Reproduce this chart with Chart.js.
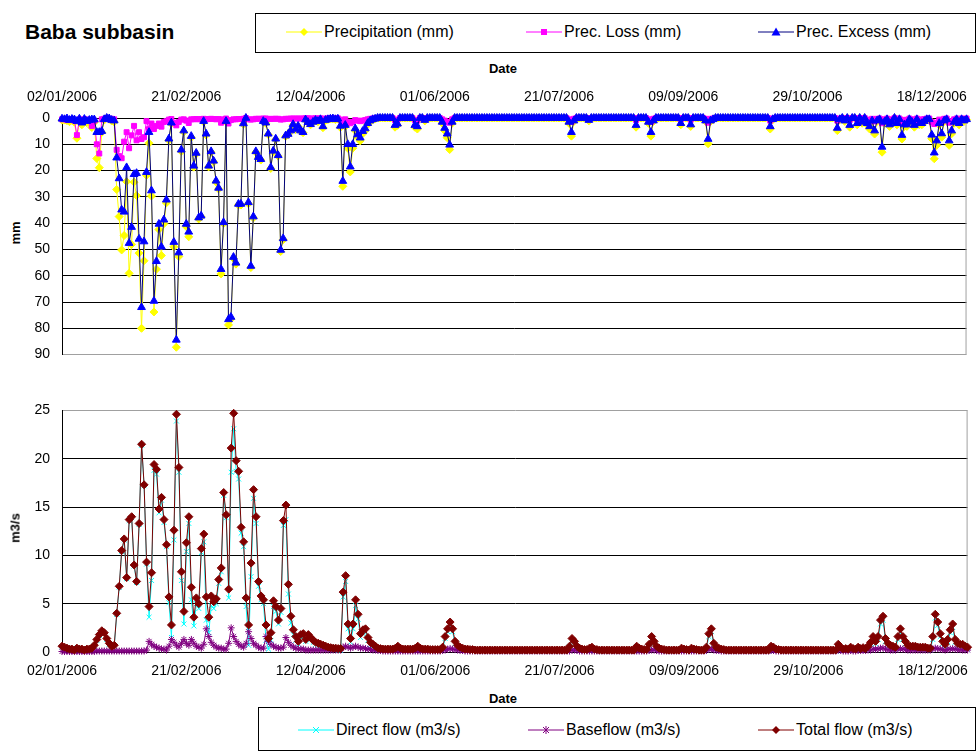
<!DOCTYPE html>
<html>
<head>
<meta charset="utf-8">
<script src="https://cdn.jsdelivr.net/npm/chart.js@4.4.1/dist/chart.umd.min.js"></script>
<style>
  html, body { margin: 0; padding: 0; background: #fff; }
  body { width: 979px; height: 755px; position: relative; overflow: hidden; font-family: 'Liberation Sans', Arial, sans-serif; color: #000; }
  canvas { position: absolute; left: 0; }
  .texto { position: absolute; white-space: nowrap; transform: translate(-50%, -50%); }
  .negrita { font-weight: bold; font-size: 13px; }
  .vertical { transform: translate(-50%, -50%) rotate(-90deg); }
  .caja-leyenda { position: absolute; border: 1px solid #000; background: #fff; box-sizing: border-box; }
  .item { position: absolute; display: flex; align-items: center; font-size: 16px; height: 20px; }
  .item svg { margin-right: 2px; }
</style>
</head>
<body>

<div class="texto" style="left:25px; top:32px; transform:translate(0,-50%); font-size:21px; font-weight:bold;">Baba subbasin</div>
<div class="caja-leyenda" id="leyendaArriba" style="left:255px; top:13px; width:721px; height:40px;"></div>
<div class="texto negrita" style="left:503px; top:68px;">Date</div>
<div class="texto negrita vertical" style="left:15px; top:233px;">mm</div>
<canvas id="graficaPrec" width="979" height="320" style="top:55px;"></canvas>

<canvas id="graficaCaudal" width="979" height="300" style="top:390px;"></canvas>
<div class="texto negrita vertical" style="left:15px; top:528px;">m3/s</div>
<div class="texto negrita" style="left:503px; top:698px;">Date</div>
<div class="caja-leyenda" id="leyendaAbajo" style="left:258px; top:707px; width:718px; height:44px;"></div>

<script>
// Datos diarios desde 02/01/2006 (un valor por día, 365 días)
const precipitacion = [
  0.8,0.8,1.0,1.4,0.9,1.6,7.7,0.8,2.6,0.9,1.8,1.6,3.6,1.6,15.4,18.9,5.5,0.8,0,0.5,
  1.1,1.5,27.2,37.5,50.2,44.7,24.2,59.1,48.1,24.4,29.5,51.4,80,54.3,21.8,9.6,29.7,73.8,57.5,42.4,
  52.3,40.2,32.3,8.5,2.2,49,87.2,52.7,12.7,5.3,41.3,45.2,7.4,18.7,13.7,38.4,37.6,1.5,6.5,18.6,
  13,16.7,24.4,27,59.3,40.2,1.4,78.7,76.5,53.4,55.6,33.1,33.1,2.4,0,32.6,56.9,38,13,15.2,
  16,1.4,2,6.3,19.2,12.8,8.2,14.5,50.8,46.3,7,6.4,5,2.6,4.4,3.2,5,5.6,0.7,1.7,
  2.6,1.7,0.9,1.4,0.6,3.7,1,0.6,0.4,0.3,0.6,0.4,3.6,26,3.2,11.5,20.5,11.5,4.8,7.3,
  8.7,6,4.8,2.5,1.3,0.7,0.4,0,0,0,0,0,0,0,3.5,2.8,0,0,0,0,
  0,0,3.5,4.2,0,0,1.1,0,0,0,0,0,0,2,4.8,7.5,12,2,0,0,
  0,0,0,0,0,0,0,0,0,0,0,0,0,0,0,0,0,0,0,0,
  0,0,0,0,0,0,0,0,0,0,0,0,0,0,0,0,0,0,0,0,
  0,0,0,0,2,6.9,1.3,0,0,0,0,0,1.1,0,0,0,0,0,0,0,
  0,0,0,0,0,0,0,0,0,0,0,3.5,0,0,0,0,2,6.9,1.3,0,
  0,0,0,0,0,0,0,0,0,2.6,0,0,0,3.2,0,0,0,0,0,1.3,
  9.8,1.3,0.7,0,0,0,0,0,0,0,0,0,0,0,0,0,0,0,0,0,
  0,0,0,0,0,4.2,0.7,0,0,0,0,0,0,0,0,0,0,0,0,0,
  0,0,0,0,0,0,0,0,0,0,0,0,4.8,0.7,0,1.3,0,3.5,0,0,
  2.6,0,2,0,2.6,4.2,1.3,6.1,1.3,0.7,13,2,0.7,3.2,2,0,2.6,0.7,8,3.2,
  3.2,0.7,2,3.5,0.7,2.6,2.6,1.6,0.7,0.7,7.9,15.5,10.4,2.6,7.3,1.3,0.7,10.4,6,2,
  0.7,2.6,0.7,1.3,0.7
];

const perdidaPrec = [
  0.5,0.3,0.8,0.6,0.5,1,6.5,0.5,0.8,0.5,0.6,0.8,3,1,10,13.5,0.5,0.3,0,0.3,
  0.3,0.5,12.1,14.5,15.3,9,5.4,11.5,6.6,3,8.5,5.4,8,7.3,1.2,4.2,2.1,4.2,3,2.1,
  3.3,1.5,1.2,0.6,0.4,1.8,2.8,1.5,0.6,0.5,1,1.9,0.5,0.5,0.4,0.5,0.4,0.3,0.5,0.4,
  0.3,0.4,0.5,0.4,1.8,0.5,0.2,2.1,0.8,0.5,0.5,0.4,0.4,0.3,0,0.5,0.6,0.5,0.3,0.3,
  0.3,0.2,0.2,0.3,0.4,0.3,0.3,0.3,0.6,0.5,0.3,0.3,0.2,0.2,0.2,0.2,0.2,0.2,0.1,0.1,
  0.2,0.2,0.1,0.2,0.1,0.5,0.2,0.1,0.1,0.1,0.1,0.1,0.6,2,0.5,1.5,2,1.5,0.8,1,
  1.2,1,0.8,0.5,0.3,0.2,0.1,0,0,0,0,0,0,0,0.8,0.6,0,0,0,0,
  0,0,0.8,1,0,0,0.3,0,0,0,0,0,0,0.5,1,1.5,1.8,0.5,0,0,
  0,0,0,0,0,0,0,0,0,0,0,0,0,0,0,0,0,0,0,0,
  0,0,0,0,0,0,0,0,0,0,0,0,0,0,0,0,0,0,0,0,
  0,0,0,0,0.5,1.5,0.3,0,0,0,0,0,0.3,0,0,0,0,0,0,0,
  0,0,0,0,0,0,0,0,0,0,0,0.8,0,0,0,0,0.5,1.5,0.3,0,
  0,0,0,0,0,0,0,0,0,0.6,0,0,0,0.7,0,0,0,0,0,0.3,
  1.8,0.3,0.2,0,0,0,0,0,0,0,0,0,0,0,0,0,0,0,0,0,
  0,0,0,0,0,1,0.2,0,0,0,0,0,0,0,0,0,0,0,0,0,
  0,0,0,0,0,0,0,0,0,0,0,0,1,0.2,0,0.3,0,0.8,0,0,
  0.6,0,0.5,0,0.6,1,0.3,1.3,0.3,0.2,2,0.5,0.2,0.7,0.5,0,0.6,0.2,1.5,0.7,
  0.7,0.2,0.5,0.8,0.2,0.6,0.6,0.4,0.2,0.2,1.5,2.3,1.8,0.6,1.4,0.3,0.2,1.8,1.2,0.5,
  0.2,0.6,0.2,0.3,0.2
];

const excesoPrec = [
  0.3,0.5,0.2,0.8,0.4,0.6,1.2,0.3,1.8,0.4,1.2,0.8,0.6,0.6,5.4,5.4,5.0,0.5,0,0.2,
  0.8,1.0,15.1,23,34.9,35.7,18.8,47.6,41.5,21.4,21,46,72,47,20.6,5.4,27.6,69.6,54.5,40.3,
  49,38.7,31.1,7.9,1.8,47.2,84.4,51.2,12.1,4.8,40.3,43.3,6.9,18.2,13.3,37.9,37.2,1.2,6,18.2,
  12.7,16.3,23.9,26.6,57.5,39.7,1.2,76.6,75.7,52.9,55.1,32.7,32.7,2.1,0,32.1,56.3,37.5,12.7,14.9,
  15.7,1.2,1.8,6,18.8,12.5,7.9,14.2,50.2,45.8,6.7,6.1,4.8,2.4,4.2,3,4.8,5.4,0.6,1.6,
  2.4,1.5,0.8,1.2,0.5,3.2,0.8,0.5,0.3,0.2,0.5,0.3,3,24,2.7,10,18.5,10,4,6.3,
  7.5,5,4,2,1,0.5,0.3,0,0,0,0,0,0,0,2.7,2.2,0,0,0,0,
  0,0,2.7,3.2,0,0,0.8,0,0,0,0,0,0,1.5,3.8,6,10.2,1.5,0,0,
  0,0,0,0,0,0,0,0,0,0,0,0,0,0,0,0,0,0,0,0,
  0,0,0,0,0,0,0,0,0,0,0,0,0,0,0,0,0,0,0,0,
  0,0,0,0,1.5,5.4,1,0,0,0,0,0,0.8,0,0,0,0,0,0,0,
  0,0,0,0,0,0,0,0,0,0,0,2.7,0,0,0,0,1.5,5.4,1,0,
  0,0,0,0,0,0,0,0,0,2,0,0,0,2.5,0,0,0,0,0,1,
  8,1,0.5,0,0,0,0,0,0,0,0,0,0,0,0,0,0,0,0,0,
  0,0,0,0,0,3.2,0.5,0,0,0,0,0,0,0,0,0,0,0,0,0,
  0,0,0,0,0,0,0,0,0,0,0,0,3.8,0.5,0,1,0,2.7,0,0,
  2,0,1.5,0,2,3.2,1,4.8,1,0.5,11,1.5,0.5,2.5,1.5,0,2,0.5,6.5,2.5,
  2.5,0.5,1.5,2.7,0.5,2,2,1.2,0.5,0.5,6.4,13.2,8.6,2,5.9,1,0.5,8.6,4.8,1.5,
  0.5,2,0.5,1,0.5
];

const caudalDirecto = [
  0.55,0.45,0.35,0.25,0.25,0.15,0.35,0.25,0.25,0.15,0.25,0.25,0.35,0.65,1.2,1.7,2.1,1.9,1.3,0.8,
  0.5,0.6,3.9,6.7,10.4,11.6,7.6,13.6,13.9,8.9,7.2,13.2,21.4,17.2,9.1,3.6,7.4,18.8,18.4,14.4,
  15.7,13.4,10.9,5.1,1.5,11.6,23.9,18.6,7.4,2.9,10.4,13.3,5.4,2.7,5.0,4.5,10.3,11.4,3.3,2.0,
  4.8,4.5,5.0,7.1,8.3,16.2,13.9,5.6,18.6,23.1,18.7,17.9,12.3,10.9,4.7,0.7,7.8,15.9,13.3,6.8,
  5.4,5.0,1.2,0.3,1.2,4.7,4.2,2.9,4.1,13.1,13.7,6.0,3.0,1.8,1.2,0.8,1.5,1.6,1.1,1.6,
  1.3,1.0,0.8,0.7,0.6,0.5,0.4,0.3,0.25,0.2,0.2,0.15,0.15,5.7,7.3,2.4,1.0,2.4,4.8,3.4,
  1.5,1.9,2.05,1.2,0.75,0.6,0.4,0.25,0.2,0.2,0.2,0.2,0.2,0.2,0.3,0.5,0.3,0.2,0.2,0.2,
  0.2,0.2,0.3,0.5,0.3,0.2,0.2,0.2,0.15,0.15,0.15,0.15,0.15,0.35,1.4,2.1,2.75,2.1,0.85,0.5,
  0.35,0.25,0.2,0.2,0.15,0.15,0.1,0.1,0.1,0.1,0.1,0.1,0.1,0.1,0.1,0.1,0.1,0.1,0.1,0.1,
  0.1,0.1,0.1,0.1,0.1,0.1,0.1,0.1,0.1,0.1,0.1,0.1,0.1,0.1,0.1,0.1,0.1,0.1,0.1,0.1,
  0.1,0.1,0.1,0.1,0.5,1.2,0.9,0.45,0.3,0.2,0.15,0.15,0.3,0.4,0.2,0.15,0.1,0.1,0.1,0.1,
  0.1,0.1,0.1,0.1,0.1,0.1,0.1,0.1,0.1,0.1,0.1,0.5,0.3,0.2,0.15,0.15,0.65,1.4,0.9,0.45,
  0.3,0.2,0.15,0.1,0.1,0.1,0.1,0.1,0.1,0.3,0.2,0.15,0.1,0.3,0.2,0.15,0.1,0.1,0.1,0.35,
  1.6,2.1,0.7,0.35,0.25,0.2,0.15,0.1,0.1,0.1,0.1,0.1,0.1,0.1,0.1,0.1,0.1,0.1,0.1,0.1,
  0.1,0.1,0.1,0.1,0.1,0.45,0.35,0.2,0.15,0.1,0.1,0.1,0.1,0.1,0.1,0.1,0.1,0.1,0.1,0.1,
  0.1,0.1,0.1,0.1,0.1,0.1,0.1,0.1,0.1,0.1,0.1,0.1,0.6,0.35,0.2,0.25,0.2,0.35,0.25,0.2,
  0.35,0.2,0.3,0.2,0.4,0.8,1.3,0.85,1.3,2.9,3.3,1.1,0.65,0.5,0.4,0.3,1.3,2.05,1.3,0.85,
  0.5,0.4,0.4,0.4,0.3,0.3,0.3,0.3,0.2,0.2,1.3,3.5,2.75,1.6,0.85,0.6,1.05,2.0,2.55,1.0,
  0.65,0.55,0.6,0.4,0.3
];

const caudalBase = [
  0.05,0.05,0.05,0.05,0.05,0.05,0.05,0.05,0.05,0.05,0.05,0.05,0.05,0.05,0.1,0.1,0.1,0.1,0.1,0.1,
  0.1,0.1,0.1,0.1,0.1,0.1,0.1,0.1,0.1,0.1,0.1,0.1,0.1,0.1,0.2,1.1,0.8,0.6,0.5,0.4,
  0.3,0.3,0.2,0.6,1.3,1.0,0.7,0.5,0.9,1.3,0.9,0.7,1.3,0.9,0.6,0.5,0.4,0.8,2.4,1.6,
  1.0,0.7,0.5,0.4,0.4,0.3,0.3,0.9,2.5,1.6,1.1,0.8,0.6,0.5,0.9,2.1,1.4,0.9,0.7,0.5,
  0.4,0.4,1.6,1.1,0.8,0.6,0.5,0.4,0.4,0.5,1.5,1.0,0.7,0.5,0.4,0.3,0.3,0.3,0.2,0.2,
  0.2,0.2,0.2,0.2,0.2,0.2,0.2,0.2,0.2,0.2,0.2,0.2,0.2,0.5,0.6,0.5,0.4,0.5,0.6,0.5,
  0.4,0.4,0.35,0.3,0.25,0.2,0.2,0.15,0.15,0.1,0.1,0.1,0.1,0.1,0.1,0.1,0.1,0.1,0.1,0.1,
  0.1,0.1,0.1,0.1,0.1,0.1,0.1,0.1,0.1,0.1,0.1,0.1,0.1,0.15,0.2,0.3,0.35,0.3,0.25,0.2,
  0.15,0.15,0.1,0.1,0.1,0.1,0.1,0.1,0.1,0.1,0.1,0.1,0.1,0.1,0.1,0.1,0.1,0.1,0.1,0.1,
  0.1,0.1,0.1,0.1,0.1,0.1,0.1,0.1,0.1,0.1,0.1,0.1,0.1,0.1,0.1,0.1,0.1,0.1,0.1,0.1,
  0.1,0.1,0.1,0.1,0.1,0.2,0.2,0.15,0.1,0.1,0.1,0.1,0.1,0.1,0.1,0.1,0.1,0.1,0.1,0.1,
  0.1,0.1,0.1,0.1,0.1,0.1,0.1,0.1,0.1,0.1,0.1,0.1,0.1,0.1,0.1,0.1,0.15,0.2,0.2,0.15,
  0.1,0.1,0.1,0.1,0.1,0.1,0.1,0.1,0.1,0.1,0.1,0.1,0.1,0.1,0.1,0.1,0.1,0.1,0.1,0.15,
  0.3,0.3,0.2,0.15,0.15,0.1,0.1,0.1,0.1,0.1,0.1,0.1,0.1,0.1,0.1,0.1,0.1,0.1,0.1,0.1,
  0.1,0.1,0.1,0.1,0.1,0.15,0.15,0.1,0.1,0.1,0.1,0.1,0.1,0.1,0.1,0.1,0.1,0.1,0.1,0.1,
  0.1,0.1,0.1,0.1,0.1,0.1,0.1,0.1,0.1,0.1,0.1,0.1,0.2,0.15,0.1,0.1,0.1,0.15,0.1,0.1,
  0.15,0.15,0.15,0.15,0.2,0.2,0.3,0.25,0.3,0.4,0.4,0.3,0.25,0.2,0.2,0.2,0.3,0.35,0.3,0.25,
  0.2,0.2,0.2,0.2,0.2,0.2,0.2,0.2,0.2,0.2,0.3,0.4,0.35,0.3,0.25,0.2,0.25,0.3,0.35,0.3,
  0.25,0.25,0.2,0.2,0.2
];

const caudalTotal = [
  0.6,0.5,0.4,0.3,0.3,0.2,0.4,0.3,0.3,0.2,0.3,0.3,0.4,0.7,1.3,1.8,2.2,2.0,1.4,0.9,
  0.6,0.7,4.0,6.8,10.5,11.7,7.7,13.7,14.0,9.0,7.3,13.3,21.5,17.3,9.3,4.7,8.2,19.4,18.9,14.8,
  16.0,13.7,11.1,5.7,2.8,12.6,24.6,19.1,8.3,4.2,11.3,14.0,6.7,3.6,5.6,5.0,10.7,12.2,5.7,3.6,
  5.8,5.2,5.5,7.5,8.7,16.5,14.2,6.5,21.1,24.7,19.8,18.7,12.9,11.4,5.6,2.8,9.2,16.8,14.0,7.3,
  5.8,5.4,2.8,1.4,2.0,5.3,4.7,3.3,4.5,13.6,15.2,7.0,3.7,2.3,1.6,1.1,1.8,1.9,1.3,1.8,
  1.5,1.2,1.0,0.9,0.8,0.7,0.6,0.5,0.45,0.4,0.4,0.35,0.35,6.2,7.9,2.9,1.4,2.9,5.4,3.9,
  1.9,2.3,2.4,1.5,1.0,0.8,0.6,0.4,0.35,0.3,0.3,0.3,0.3,0.3,0.4,0.6,0.4,0.3,0.3,0.3,
  0.3,0.3,0.4,0.6,0.4,0.3,0.3,0.3,0.25,0.25,0.25,0.25,0.25,0.5,1.6,2.4,3.1,2.4,1.1,0.7,
  0.5,0.4,0.3,0.3,0.25,0.25,0.2,0.2,0.2,0.2,0.2,0.2,0.2,0.2,0.2,0.2,0.2,0.2,0.2,0.2,
  0.2,0.2,0.2,0.2,0.2,0.2,0.2,0.2,0.2,0.2,0.2,0.2,0.2,0.2,0.2,0.2,0.2,0.2,0.2,0.2,
  0.2,0.2,0.2,0.2,0.6,1.4,1.1,0.6,0.4,0.3,0.25,0.25,0.4,0.5,0.3,0.25,0.2,0.2,0.2,0.2,
  0.2,0.2,0.2,0.2,0.2,0.2,0.2,0.2,0.2,0.2,0.2,0.6,0.4,0.3,0.25,0.25,0.8,1.6,1.1,0.6,
  0.4,0.3,0.25,0.2,0.2,0.2,0.2,0.2,0.2,0.4,0.3,0.25,0.2,0.4,0.3,0.25,0.2,0.2,0.2,0.5,
  1.9,2.4,0.9,0.5,0.4,0.3,0.25,0.2,0.2,0.2,0.2,0.2,0.2,0.2,0.2,0.2,0.2,0.2,0.2,0.2,
  0.2,0.2,0.2,0.2,0.2,0.6,0.5,0.3,0.25,0.2,0.2,0.2,0.2,0.2,0.2,0.2,0.2,0.2,0.2,0.2,
  0.2,0.2,0.2,0.2,0.2,0.2,0.2,0.2,0.2,0.2,0.2,0.2,0.8,0.5,0.3,0.35,0.3,0.5,0.35,0.3,
  0.5,0.35,0.45,0.35,0.6,1.0,1.6,1.1,1.6,3.3,3.7,1.4,0.9,0.7,0.6,0.5,1.6,2.4,1.6,1.1,
  0.7,0.6,0.6,0.6,0.5,0.5,0.5,0.5,0.4,0.4,1.6,3.9,3.1,1.9,1.1,0.8,1.3,2.3,2.9,1.3,
  0.9,0.8,0.8,0.6,0.5
];

// Ejes
const ticksMm = [0, 90, 10];        // min, max, paso
const ticksCaudal = [0, 25, 5];
const pasoEtiquetasFecha = 50;      // una etiqueta cada 50 días

// Categorías: fechas dd/mm/aaaa
const fechas = [];
for (let i = 0; i < precipitacion.length; i++) {
  const f = new Date(2006, 0, 2 + i);
  const dd = String(f.getDate()).padStart(2, '0');
  const mm = String(f.getMonth() + 1).padStart(2, '0');
  fechas.push(`${dd}/${mm}/${f.getFullYear()}`);
}

const fuente = { family: "'Liberation Sans', Arial, sans-serif", size: 14 };

// Borde derecho gris del área de trazado
const bordeDerecho = {
  id: 'bordeDerecho',
  beforeDatasetsDraw(chart) {
    const { ctx, chartArea: a } = chart;
    ctx.save();
    ctx.strokeStyle = '#a0a0a0';
    ctx.lineWidth = 1;
    ctx.beginPath();
    ctx.moveTo(a.right - 0.5, a.top);
    ctx.lineTo(a.right - 0.5, a.bottom);
    ctx.stroke();
    ctx.restore();
  }
};

function serie(etiqueta, datos, linea, punto, estilo, radio, orden) {
  return {
    label: etiqueta,
    data: datos,
    borderColor: linea,
    backgroundColor: punto,
    pointBackgroundColor: punto,
    pointBorderColor: punto,
    pointStyle: estilo,
    pointRadius: radio,
    pointBorderWidth: 1,
    borderWidth: 1,
    tension: 0,
    clip: false,
    order: orden
  };
}

function opciones(posicionX, altoX, limites, padding, pad) {
  return {
    responsive: false,
    animation: false,
    events: [],
    layout: { padding: pad },
    plugins: { legend: { display: false }, tooltip: { enabled: false } },
    scales: {
      x: {
        type: 'category',
        position: posicionX,
        offset: false,
        grid: { display: false, drawTicks: false },
        border: { display: true, color: '#000', width: 1 },
        ticks: {
          autoSkip: false,
          maxRotation: 0,
          minRotation: 0,
          padding: padding,
          color: '#000',
          font: fuente,
          callback: function (v, i) {
            return i % pasoEtiquetasFecha === 0 ? fechas[i] : null;
          }
        },
        afterFit(scale) { scale.height = altoX; }
      },
      y: {
        reverse: posicionX === 'top',
        min: limites[0],
        max: limites[1],
        grid: {
          color: c => (c.tick && c.tick.value === limites[1]) ? '#a0a0a0' : '#000',
          lineWidth: 1,
          drawTicks: false
        },
        border: { display: true, color: '#000', width: 1 },
        ticks: { stepSize: limites[2], padding: 12, color: '#000', font: fuente },
        afterFit(scale) { scale.width = 62; }
      }
    }
  };
}

// Gráfica superior: precipitación
new Chart(document.getElementById('graficaPrec').getContext('2d'), {
  type: 'line',
  data: {
    labels: fechas,
    datasets: [
      serie('Precipitation (mm)', precipitacion, '#ffff00', '#ffff00', 'rectRot', 4, 2),
      serie('Prec. Loss (mm)', perdidaPrec, '#ff00ff', '#ff00ff', 'rect', 3.5, 1),
      serie('Prec. Excess (mm)', excesoPrec, '#000080', '#0000ff', 'triangle', 4.5, 0)
    ]
  },
  options: opciones('top', 63, ticksMm, 12, { left: 0, right: 1, top: 0, bottom: 9 }),
  plugins: [bordeDerecho]
});

// Gráfica inferior: caudales
new Chart(document.getElementById('graficaCaudal').getContext('2d'), {
  type: 'line',
  data: {
    labels: fechas,
    datasets: [
      serie('Direct flow (m3/s)', caudalDirecto, '#00ffff', '#00ffff', 'crossRot', 3.5, 2),
      serie('Baseflow (m3/s)', caudalBase, '#800080', '#800080', 'star', 3.5, 1),
      serie('Total flow (m3/s)', caudalTotal, '#800000', '#800000', 'rectRot', 4, 0)
    ]
  },
  options: opciones('bottom', 38, ticksCaudal, 11, { left: 0, right: 1, top: 10, bottom: 0 }),
  plugins: [bordeDerecho]
});

// Leyendas en cajas
function simbolo(linea, punto, forma) {
  let marca = '';
  if (forma === 'rombo') marca = `<polygon points="18,2 22,6 18,10 14,6" fill="${punto}"/>`;
  if (forma === 'cuadro') marca = `<rect x="15" y="3" width="6" height="6" fill="${punto}"/>`;
  if (forma === 'triangulo') marca = `<polygon points="18,1.5 22.5,9.5 13.5,9.5" fill="${punto}"/>`;
  if (forma === 'x') marca = `<path d="M15,3 L21,9 M21,3 L15,9" stroke="${punto}" stroke-width="1"/>`;
  if (forma === 'asterisco') marca = `<path d="M15,3 L21,9 M21,3 L15,9 M18,2 L18,10" stroke="${punto}" stroke-width="1"/>`;
  return `<svg width="36" height="12"><line x1="0" y1="6" x2="36" y2="6" stroke="${linea}" stroke-width="1"/>${marca}</svg>`;
}

function llenarLeyenda(id, items, top) {
  const caja = document.getElementById(id);
  items.forEach(it => {
    const d = document.createElement('div');
    d.className = 'item';
    d.style.left = it.x + 'px';
    d.style.top = top + 'px';
    d.innerHTML = simbolo(it.linea, it.punto, it.forma) + '<span>' + it.texto + '</span>';
    caja.appendChild(d);
  });
}

llenarLeyenda('leyendaArriba', [
  { x: 30, texto: 'Precipitation (mm)', linea: '#ffff00', punto: '#ffff00', forma: 'rombo' },
  { x: 270, texto: 'Prec. Loss (mm)', linea: '#ff00ff', punto: '#ff00ff', forma: 'cuadro' },
  { x: 502, texto: 'Prec. Excess (mm)', linea: '#000080', punto: '#0000ff', forma: 'triangulo' }
], 8);

llenarLeyenda('leyendaAbajo', [
  { x: 39, texto: 'Direct flow (m3/s)', linea: '#00ffff', punto: '#00ffff', forma: 'x' },
  { x: 269, texto: 'Baseflow (m3/s)', linea: '#800080', punto: '#800080', forma: 'asterisco' },
  { x: 499, texto: 'Total flow (m3/s)', linea: '#800000', punto: '#800000', forma: 'rombo' }
], 12);
</script>
</body>
</html>
